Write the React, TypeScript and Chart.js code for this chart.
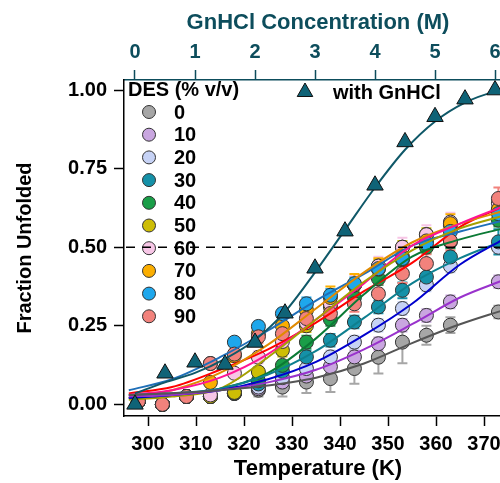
import React, { useEffect, useRef } from "react";
import { Chart, registerables } from "chart.js";

Chart.register(...registerables);

// ---------- data ----------
const TEMPS = [298, 303, 308, 313, 318, 323, 328, 333, 338, 343, 348, 353, 358, 363, 373];
const DES_LABELS = ["0", "10", "20", "30", "40", "50", "60", "70", "80", "90"];

const DES_0 = [0.01, 0.0, 0.025, 0.025, 0.035, 0.045, 0.055, 0.071, 0.082, 0.114, 0.15, 0.198, 0.22, 0.252, 0.294];
const DES_10 = [0.01, 0.0, 0.025, 0.025, 0.035, 0.05, 0.071, 0.09, 0.12, 0.151, 0.193, 0.252, 0.283, 0.326, 0.39];
const DES_20 = [0.01, 0.0, 0.025, 0.025, 0.035, 0.055, 0.085, 0.114, 0.151, 0.198, 0.252, 0.305, 0.38, 0.44, 0.5];
const DES_30 = [0.01, 0.0, 0.025, 0.025, 0.035, 0.065, 0.105, 0.151, 0.204, 0.262, 0.31, 0.363, 0.405, 0.469, 0.517];
const DES_40 = [0.01, 0.0, 0.025, 0.025, 0.037, 0.075, 0.124, 0.198, 0.27, 0.34, 0.4, 0.46, 0.5, 0.517, 0.586];
const DES_50 = [0.01, 0.0, 0.025, 0.025, 0.038, 0.103, 0.172, 0.25, 0.31, 0.38, 0.44, 0.5, 0.54, 0.57, 0.62];
const DES_60 = [0.01, 0.0, 0.025, 0.03, 0.099, 0.15, 0.2, 0.26, 0.32, 0.38, 0.44, 0.5, 0.54, 0.58, 0.64];
const DES_70 = [0.01, 0.0, 0.025, 0.07, 0.155, 0.225, 0.25, 0.3, 0.34, 0.38, 0.43, 0.47, 0.52, 0.575, 0.62];
const DES_80 = [0.01, 0.0, 0.025, 0.13, 0.198, 0.248, 0.289, 0.32, 0.347, 0.384, 0.432, 0.464, 0.512, 0.55, 0.607];
const DES_90 = [0.01, 0.0, 0.025, 0.13, 0.16, 0.215, 0.225, 0.273, 0.289, 0.32, 0.352, 0.416, 0.448, 0.52, 0.655];

const ERR_0 = [0, 0, 0, 0.01, 0.015, 0.02, 0.03, 0.035, 0.043, 0.048, 0.052, 0.067, 0.03, 0.025, 0.02];
const ERR_10 = [0, 0, 0, 0.01, 0.015, 0.015, 0.02, 0.02, 0.02, 0.02, 0.02, 0.02, 0.02, 0.02, 0.02];
const ERR_20 = [0, 0, 0, 0.01, 0.01, 0.015, 0.015, 0.015, 0.02, 0.02, 0.02, 0.02, 0.02, 0.02, 0.02];
const ERR_30 = [0, 0, 0, 0.01, 0.01, 0.015, 0.02, 0.02, 0.02, 0.02, 0.02, 0.025, 0.03, 0.03, 0.04];
const ERR_40 = [0, 0, 0, 0.01, 0.01, 0.015, 0.015, 0.02, 0.02, 0.02, 0.02, 0.02, 0.02, 0.02, 0.02];
const ERR_50 = [0, 0, 0, 0.012, 0.015, 0.015, 0.02, 0.02, 0.02, 0.02, 0.02, 0.02, 0.02, 0.02, 0.02];
const ERR_60 = [0, 0, 0, 0.015, 0.015, 0.02, 0.02, 0.025, 0.025, 0.03, 0.03, 0.03, 0.03, 0.03, 0.03];
const ERR_70 = [0, 0, 0, 0.015, 0.02, 0.025, 0.03, 0.03, 0.035, 0.035, 0.035, 0.03, 0.035, 0.03, 0.03];
const ERR_80 = [0, 0, 0, 0.01, 0.01, 0.015, 0.015, 0.02, 0.02, 0.02, 0.02, 0.02, 0.02, 0.02, 0.02];
const ERR_90 = [0, 0, 0.012, 0.015, 0.015, 0.02, 0.02, 0.025, 0.025, 0.025, 0.03, 0.03, 0.03, 0.03, 0.035];

// fitted curves
const FIT_T = [296, 305, 315, 325, 335, 345, 355, 365, 374];
const FIT_0 = [0.03, 0.035, 0.045, 0.06, 0.085, 0.13, 0.195, 0.255, 0.3];
const FIT_10 = [0.025, 0.03, 0.045, 0.07, 0.11, 0.175, 0.255, 0.34, 0.395];
const FIT_20 = [0.02, 0.03, 0.045, 0.08, 0.135, 0.22, 0.32, 0.445, 0.525];
const FIT_30 = [0.03, 0.035, 0.05, 0.095, 0.17, 0.275, 0.385, 0.465, 0.52];
const FIT_40 = [0.02, 0.03, 0.05, 0.1, 0.21, 0.35, 0.47, 0.525, 0.56];
const FIT_50 = [0.015, 0.025, 0.05, 0.15, 0.27, 0.39, 0.49, 0.56, 0.6];
const FIT_60 = [0.03, 0.045, 0.085, 0.16, 0.27, 0.385, 0.505, 0.575, 0.63];
const FIT_70 = [0.02, 0.045, 0.1, 0.19, 0.305, 0.42, 0.515, 0.575, 0.615];
const FIT_80 = [0.045, 0.08, 0.15, 0.235, 0.33, 0.415, 0.505, 0.55, 0.585];
const FIT_90 = [0.035, 0.055, 0.11, 0.175, 0.26, 0.36, 0.45, 0.565, 0.63];

const GNHCL_M = [0, 0.5, 1, 1.5, 2, 2.5, 3, 3.5, 4, 4.5, 5, 5.5, 6];
const GNHCL_FRAC = [0.0, 0.099, 0.134, 0.127, 0.197, 0.29, 0.433, 0.551, 0.697, 0.835, 0.915, 0.971, 1.0];
const GNHCL_FIT_M = [0, 0.5, 1, 1.5, 2, 2.5, 3, 3.5, 4, 4.5, 5, 5.5, 6, 6.3];
const GNHCL_FIT = [0.035, 0.07, 0.1, 0.145, 0.205, 0.295, 0.42, 0.555, 0.69, 0.81, 0.9, 0.96, 0.995, 1.005];

const X_TICKS = [300, 310, 320, 330, 340, 350, 360, 370];
const TOP_TICKS = [0, 1, 2, 3, 4, 5, 6];
const Y_TICKS = [0, 0.25, 0.5, 0.75, 1.0];

const FILLS = ["#a6a6a6", "#c9a6e0", "#c6d2f5", "#1591a8", "#1a9e48", "#cdbd05", "#f7c6e6", "#fbae00", "#1ea7ec", "#f2827c"];
const LINES = ["#555555", "#9932cc", "#0000cd", "#0e7f8f", "#0b7a35", "#a5a000", "#ff1493", "#e08a00", "#1f6fb8", "#ff0000"];
const TEAL = "#0f6377";
const TEAL_TEXT = "#0d4d5c";
const FONT = "Arial, 'Liberation Sans', sans-serif";

const SERIES = [DES_0, DES_10, DES_20, DES_30, DES_40, DES_50, DES_60, DES_70, DES_80, DES_90];
const ERRS = [ERR_0, ERR_10, ERR_20, ERR_30, ERR_40, ERR_50, ERR_60, ERR_70, ERR_80, ERR_90];
const FITS = [FIT_0, FIT_10, FIT_20, FIT_30, FIT_40, FIT_50, FIT_60, FIT_70, FIT_80, FIT_90];

const CANVAS_W = 512;
const CANVAS_H = 483;
const X_MIN = 295.0;
const X_MAX = 375.83;
const X2_MIN = -0.1833;
const X2_MAX = 6.283;
const Y_MIN = -0.037;
const Y_MAX = 1.032;

const errorBarPlugin = {
  id: "errbars",
  beforeDatasetsDraw(chart: any) {
    const ctx = chart.ctx;
    const ys = chart.scales.y;
    const area = chart.chartArea;
    ctx.save();
    ctx.beginPath();
    ctx.rect(area.left, area.top, area.right - area.left, area.bottom - area.top);
    ctx.clip();
    chart.data.datasets.forEach((ds: any, i: number) => {
      if (!ds.errs) return;
      const meta = chart.getDatasetMeta(i);
      ctx.strokeStyle = ds.errColor;
      ctx.lineWidth = 2;
      meta.data.forEach((pt: any, j: number) => {
        const e = ds.errs[j];
        if (!e) return;
        const v = ds.data[j].y;
        const y1 = ys.getPixelForValue(v - e);
        const y2 = ys.getPixelForValue(v + e);
        ctx.beginPath();
        ctx.moveTo(pt.x, y1);
        ctx.lineTo(pt.x, y2);
        ctx.moveTo(pt.x - 5, y1);
        ctx.lineTo(pt.x + 5, y1);
        ctx.moveTo(pt.x - 5, y2);
        ctx.lineTo(pt.x + 5, y2);
        ctx.stroke();
      });
    });
    ctx.restore();
  },
};

const legendPlugin = {
  id: "customLegend",
  afterDraw(chart: any) {
    const ctx = chart.ctx;
    const area = chart.chartArea;
    ctx.save();
    ctx.fillStyle = "#000";
    ctx.textBaseline = "middle";
    ctx.textAlign = "left";
    ctx.font = `bold 20px ${FONT}`;
    ctx.fillText("DES (% v/v)", 128, 90);
    DES_LABELS.forEach((lab, i) => {
      const y = 112 + i * 22.7;
      ctx.beginPath();
      ctx.arc(149, y, 6.5, 0, Math.PI * 2);
      ctx.fillStyle = FILLS[i];
      ctx.fill();
      ctx.lineWidth = 1;
      ctx.strokeStyle = "#333";
      ctx.stroke();
      ctx.fillStyle = "#000";
      ctx.fillText(lab, 174, y + 1);
    });
    // GnHCl legend
    const tx = 305, ty = 92, r = 9;
    ctx.beginPath();
    ctx.moveTo(tx, ty - r);
    ctx.lineTo(tx + r * 0.866, ty + r * 0.5);
    ctx.lineTo(tx - r * 0.866, ty + r * 0.5);
    ctx.closePath();
    ctx.fillStyle = TEAL;
    ctx.fill();
    ctx.strokeStyle = "#111";
    ctx.lineWidth = 1;
    ctx.stroke();
    ctx.fillStyle = "#000";
    ctx.fillText("with GnHCl", 333, 93);
    // dashed 0.5 line
    const y5 = chart.scales.y.getPixelForValue(0.5);
    ctx.beginPath();
    ctx.setLineDash([9, 7]);
    ctx.strokeStyle = "#000";
    ctx.lineWidth = 1.5;
    ctx.moveTo(area.left + 2, y5);
    ctx.lineTo(area.right, y5);
    ctx.stroke();
    ctx.restore();
  },
};

export default function App() {
  const ref = useRef<HTMLCanvasElement | null>(null);

  useEffect(() => {
    if (!ref.current) return;
    const datasets: any[] = [];

    // GnHCl triangles (on top)
    datasets.push({
      type: "line",
      data: GNHCL_M.map((m, i) => ({ x: m, y: GNHCL_FRAC[i] })),
      xAxisID: "x2",
      yAxisID: "y",
      showLine: false,
      pointStyle: "triangle",
      pointRadius: 9.5,
      backgroundColor: TEAL,
      borderColor: "#111",
      pointBorderWidth: 1,
      order: 0,
    });
    datasets.push({
      type: "line",
      data: GNHCL_FIT_M.map((m, i) => ({ x: m, y: GNHCL_FIT[i] })),
      xAxisID: "x2",
      yAxisID: "y",
      borderColor: "#0f5868",
      borderWidth: 2,
      pointRadius: 0,
      cubicInterpolationMode: "monotone",
      fill: false,
      order: 1,
    });

    SERIES.forEach((vals, s) => {
      datasets.push({
        type: "line",
        data: FIT_T.map((t, i) => ({ x: t, y: FITS[s][i] })),
        xAxisID: "x",
        yAxisID: "y",
        borderColor: LINES[s],
        borderWidth: 2,
        pointRadius: 0,
        cubicInterpolationMode: "monotone",
        fill: false,
        order: 2,
      });
      datasets.push({
        type: "line",
        data: TEMPS.map((t, i) => ({ x: t, y: vals[i] })),
        xAxisID: "x",
        yAxisID: "y",
        showLine: false,
        pointStyle: "circle",
        pointRadius: 7,
        backgroundColor: FILLS[s],
        borderColor: "#333",
        pointBorderWidth: 1,
        errs: ERRS[s],
        errColor: FILLS[s],
        order: 3 + (9 - s),
      });
    });

    const tickFont = { family: FONT, size: 20, weight: "bold" as const };
    const titleFont = { family: FONT, size: 22, weight: "bold" as const };

    const chart = new Chart(ref.current, {
      type: "line",
      data: { datasets },
      options: {
        animation: false,
        responsive: false,
        devicePixelRatio: 1,
        layout: { padding: 0, autoPadding: false },
        plugins: { legend: { display: false }, tooltip: { enabled: false } },
        events: [],
        scales: {
          x: {
            type: "linear",
            position: "bottom",
            min: X_MIN,
            max: X_MAX,
            afterBuildTicks: (s: any) => {
              s.ticks = X_TICKS.map((v) => ({ value: v }));
            },
            afterFit: (s: any) => {
              s.height = 67;
            },
            grid: { drawOnChartArea: false, drawTicks: true, tickLength: 10, tickColor: "#000", tickWidth: 1.5 },
            border: { display: true, color: "#000", width: 1.5 },
            ticks: { color: "#000", font: tickFont, padding: 6, maxRotation: 0, autoSkip: false },
            title: { display: true, text: "Temperature (K)", color: "#000", font: titleFont, padding: { top: 0, bottom: 1 } },
          },
          x2: {
            type: "linear",
            position: "top",
            min: X2_MIN,
            max: X2_MAX,
            afterBuildTicks: (s: any) => {
              s.ticks = TOP_TICKS.map((v) => ({ value: v }));
            },
            afterFit: (s: any) => {
              s.height = 80;
            },
            grid: { drawOnChartArea: false, drawTicks: true, tickLength: 10, tickColor: TEAL_TEXT, tickWidth: 1.5 },
            border: { display: true, color: TEAL_TEXT, width: 1.5 },
            ticks: { color: TEAL_TEXT, font: tickFont, padding: 6, maxRotation: 0, autoSkip: false },
            title: { display: true, text: "GnHCl Concentration (M)", color: TEAL_TEXT, font: titleFont, padding: { top: 10, bottom: 0 } },
          },
          y: {
            type: "linear",
            position: "left",
            min: Y_MIN,
            max: Y_MAX,
            afterBuildTicks: (s: any) => {
              s.ticks = Y_TICKS.map((v) => ({ value: v }));
            },
            afterFit: (s: any) => {
              s.width = 124;
            },
            grid: { drawOnChartArea: false, drawTicks: true, tickLength: 10, tickColor: "#000", tickWidth: 1.5 },
            border: { display: true, color: "#000", width: 1.5 },
            ticks: {
              color: "#000",
              font: tickFont,
              padding: 7,
              callback: (v: any) => Number(v).toFixed(2),
            },
            title: { display: true, text: "Fraction Unfolded", color: "#000", font: { family: FONT, size: 20, weight: "bold" }, padding: { top: 13, bottom: 0 } },
          },
        },
      } as any,
      plugins: [errorBarPlugin, legendPlugin],
    });
    return () => chart.destroy();
  }, []);

  return (
    <div style={{ position: "absolute", left: 0, top: 0, width: 500, height: 483, overflow: "hidden", background: "#fff" }}>
      <canvas ref={ref} width={CANVAS_W} height={CANVAS_H} style={{ display: "block" }} />
    </div>
  );
}
